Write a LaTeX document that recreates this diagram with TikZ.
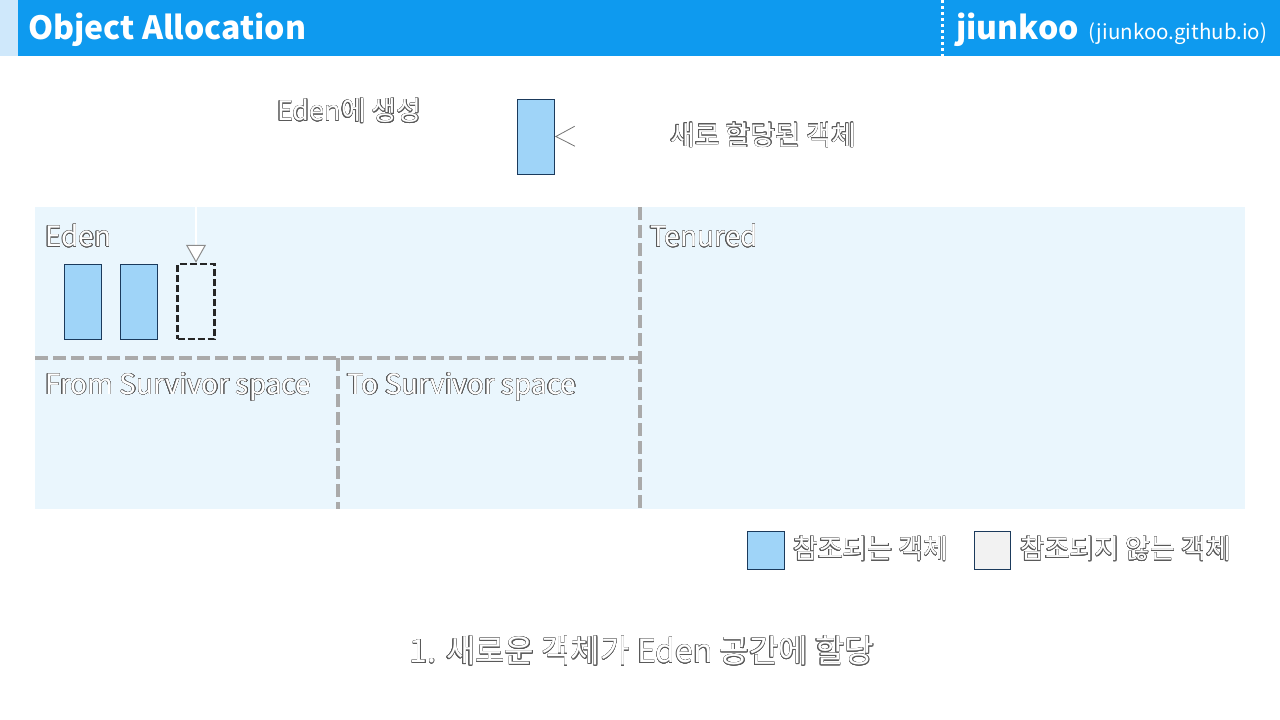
\documentclass[tikz,border=0pt]{standalone}
\usepackage{fontspec}
\setmainfont{Noto Sans CJK KR}
\usepackage{contour}
\contourlength{0.4pt}
\contournumber{16}
\usetikzlibrary{arrows.meta}
\definecolor{barblue}{HTML}{0E9AEF}
\definecolor{stripblue}{HTML}{CFE8FB}
\definecolor{areablue}{HTML}{EAF6FD}
\definecolor{objblue}{HTML}{9FD4F8}
\definecolor{objedge}{HTML}{1B3A5C}
\definecolor{divgray}{HTML}{AAAAAA}
\definecolor{freegray}{HTML}{F2F2F2}
\newcommand{\olt}[1]{\contour{black!65}{#1}}

\begin{document}
\begin{tikzpicture}[x=1pt, y=-1pt,
  lbl/.style={text=white, inner sep=0pt, font=\fontsize{27}{30}\selectfont},
  area/.style={lbl, anchor=west, font=\fontsize{28}{30}\selectfont},
  obj/.style={draw=objedge, fill=objblue, line width=1pt, minimum width=37pt, minimum height=75pt, inner sep=0pt},
  divider/.style={divgray, line width=4pt, dash pattern=on 13pt off 5pt}]
\useasboundingbox (0,0) rectangle (1280,720);
% header
\fill[stripblue] (0,0) rectangle (18,56);
\fill[barblue] (18,0) rectangle (1280,56);
\draw[white, line width=3pt, dash pattern=on 3pt off 3pt] (942,0) -- (942,56);
\node[anchor=base west, text=white, inner sep=0pt, font=\bfseries\fontsize{32}{34}\selectfont] (title) at (28,39) {Object Allocation};
\node[anchor=base west, text=white, inner sep=0pt, font=\bfseries\fontsize{32}{34}\selectfont] (brand) at (956,39) {jiunkoo};
\node[anchor=base west, text=white, inner sep=0pt, font=\fontsize{20.5}{22}\selectfont] (site) at ([xshift=9pt]brand.base east) {(jiunkoo.github.io)};
% heap
\fill[areablue] (35,207) rectangle (1245,509);
\draw[divider] (640,207) -- (640,509);
\draw[divider] (35,358) -- (640,358);
\draw[divider] (338,358) -- (338,509);
\node[area] (eden) at (45,236) {\olt{Eden}};
\node[area] (tenured) at (650,236) {\olt{Tenured}};
\node[area] (fromsurv) at (45,387) {\olt{From Survivor space}};
\node[area] (tosurv) at (347,387) {\olt{To Survivor space}};
% objects
\node[obj] (old1) at (82.5,301.5) {};
\node[obj] (old2) at (139,301.5) {};
\node[draw=black!85, line width=2.5pt, dash pattern=on 7pt off 3pt, minimum width=37pt, minimum height=75pt, inner sep=0pt] (slot) at (196,301.5) {};
\node[obj] (newobj) at (536,136.5) {};
\node[lbl, anchor=west] (lblcreate) at (277,111) {\olt{Eden에 생성}};
\node[lbl, anchor=west] (lblnew) at (670,135) {\olt{새로 할당된 객체}};
\coordinate (drop) at (196,150);
\draw[white, line width=2pt, -{Triangle[width=20pt, length=18pt, color=black!45, fill=white, line width=1pt]}] (drop) -- (slot.north);
\draw[white, line width=2pt, -{Straight Barb[width=20pt, length=19pt, color=black!55, line width=0.8pt]}] (lblnew.west) -- (newobj.east);
% legend
\node[obj, minimum width=37pt, minimum height=38pt] (keyref) at (765.5,550) {};
\node[lbl, anchor=west] (lblref) at (793,549) {\olt{참조되는 객체}};
\node[draw=objedge, fill=freegray, line width=1pt, minimum width=36pt, minimum height=38pt, inner sep=0pt] (keyfree) at (992,550) {};
\node[lbl, anchor=west] (lblfree) at (1020,549) {\olt{참조되지 않는 객체}};
% caption
\node[lbl, font=\fontsize{32}{36}\selectfont] (caption) at (642,651) {\olt{1. 새로운 객체가 Eden 공간에 할당}};
\end{tikzpicture}
\end{document}
